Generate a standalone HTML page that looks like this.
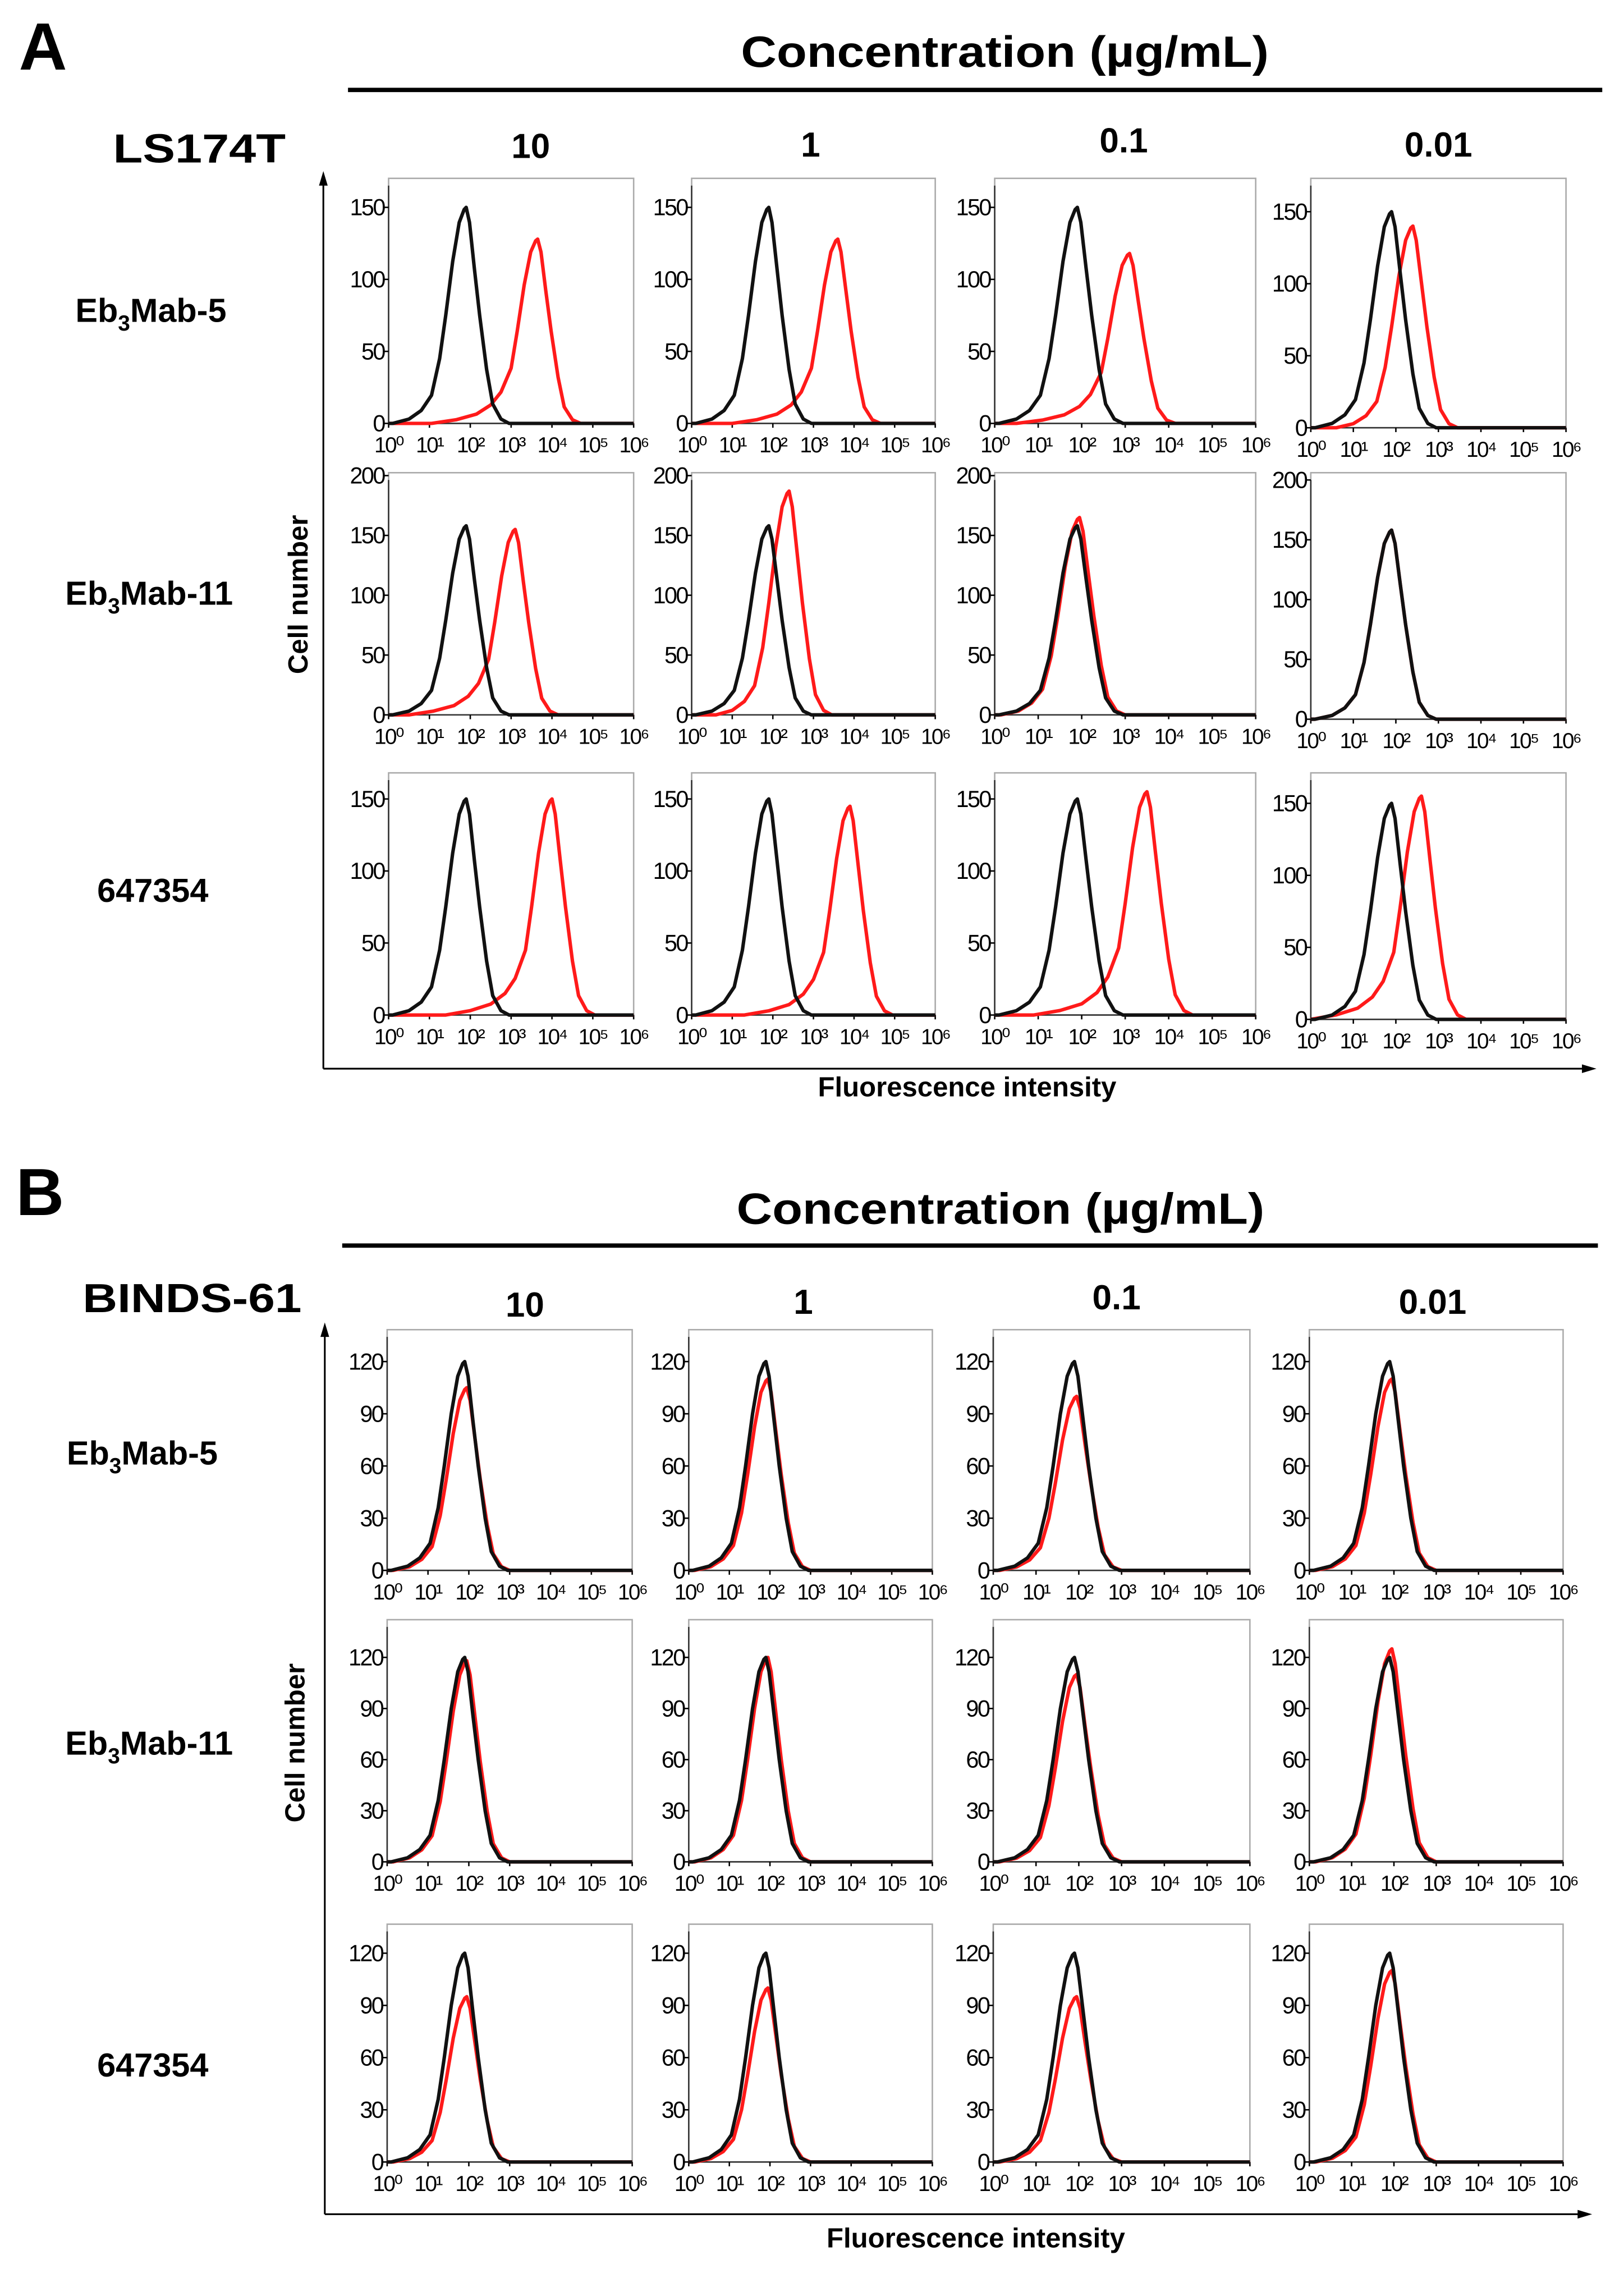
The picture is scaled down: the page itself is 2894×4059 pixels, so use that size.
<!DOCTYPE html>
<html><head><meta charset="utf-8"><style>
html,body{margin:0;padding:0;background:#fff}
svg{display:block}
text{font-family:"Liberation Sans",Arial,sans-serif}
</style></head><body>
<svg id="fig" xmlns="http://www.w3.org/2000/svg" width="2894" height="4059" viewBox="0 0 1120 1571" preserveAspectRatio="none">
<g>
<text x="13" y="48" font-size="46" font-weight="bold">A</text>
<text x="693" y="46" font-size="30" font-weight="bold" text-anchor="middle" textLength="364" lengthAdjust="spacingAndGlyphs">Concentration (µg/mL)</text>
<line x1="240" y1="62" x2="1105" y2="62" stroke="#000" stroke-width="3"/>
<text x="78" y="112" font-size="28" font-weight="bold" textLength="119" lengthAdjust="spacingAndGlyphs">LS174T</text>
<text x="366" y="109" font-size="24" font-weight="bold" text-anchor="middle">10</text>
<text x="559" y="108" font-size="24" font-weight="bold" text-anchor="middle">1</text>
<text x="775" y="105" font-size="24" font-weight="bold" text-anchor="middle">0.1</text>
<text x="992" y="108" font-size="24" font-weight="bold" text-anchor="middle">0.01</text>
<text x="52" y="222" font-size="23" font-weight="bold">Eb<tspan font-size="15" dy="6">3</tspan><tspan dy="-6">Mab-5</tspan></text>
<text x="45" y="417" font-size="23" font-weight="bold">Eb<tspan font-size="15" dy="6">3</tspan><tspan dy="-6">Mab-11</tspan></text>
<text x="67" y="622" font-size="23" font-weight="bold">647354</text>
<line x1="223" y1="737" x2="223" y2="126" stroke="#000" stroke-width="1.2"/>
<polygon points="223,118 220,128 226,128" fill="#000"/>
<line x1="223" y1="737" x2="1093" y2="737" stroke="#000" stroke-width="1.2"/>
<polygon points="1101,737 1091,734 1091,740" fill="#000"/>
<text transform="translate(212,410) rotate(-90)" font-size="19" font-weight="bold" text-anchor="middle">Cell number</text>
<text x="667" y="756" font-size="19" font-weight="bold" text-anchor="middle">Fluorescence intensity</text>
</g>
<g>
<text x="11" y="838" font-size="46" font-weight="bold">B</text>
<text x="690" y="844" font-size="30" font-weight="bold" text-anchor="middle" textLength="364" lengthAdjust="spacingAndGlyphs">Concentration (µg/mL)</text>
<line x1="236" y1="859" x2="1102" y2="859" stroke="#000" stroke-width="3"/>
<text x="57" y="905" font-size="28" font-weight="bold" textLength="151" lengthAdjust="spacingAndGlyphs">BINDS-61</text>
<text x="362" y="908" font-size="24" font-weight="bold" text-anchor="middle">10</text>
<text x="554" y="906" font-size="24" font-weight="bold" text-anchor="middle">1</text>
<text x="770" y="903" font-size="24" font-weight="bold" text-anchor="middle">0.1</text>
<text x="988" y="906" font-size="24" font-weight="bold" text-anchor="middle">0.01</text>
<text x="46" y="1010" font-size="23" font-weight="bold">Eb<tspan font-size="15" dy="6">3</tspan><tspan dy="-6">Mab-5</tspan></text>
<text x="45" y="1210" font-size="23" font-weight="bold">Eb<tspan font-size="15" dy="6">3</tspan><tspan dy="-6">Mab-11</tspan></text>
<text x="67" y="1432" font-size="23" font-weight="bold">647354</text>
<line x1="224" y1="1527" x2="224" y2="920" stroke="#000" stroke-width="1.2"/>
<polygon points="224,912 221,922 227,922" fill="#000"/>
<line x1="224" y1="1527" x2="1090" y2="1527" stroke="#000" stroke-width="1.2"/>
<polygon points="1098,1527 1088,1524 1088,1530" fill="#000"/>
<text transform="translate(210,1202) rotate(-90)" font-size="19" font-weight="bold" text-anchor="middle">Cell number</text>
<text x="673" y="1550" font-size="19" font-weight="bold" text-anchor="middle">Fluorescence intensity</text>
</g>
<g id="plots"></g>
</svg>
<script>
// ---- data (peak position in log10 fluorescence, peak height in cells) ----
const concentrations = ["10", "1", "0.1", "0.01"];
const antibodies = ["Eb3Mab-5", "Eb3Mab-11", "647354"];
// Panel A: LS174T
const aControlPeakLog = [[1.9,1.9,1.9,1.9],[1.9,1.9,1.9,1.9],[1.9,1.9,1.9,1.9]];
const aControlHeight  = [[150,150,150,150],[158,158,158,158],[150,150,150,150]];
const aSamplePeakLog  = [[3.65,3.6,3.1,2.4],[3.1,2.4,1.95,1.9],[4.0,3.9,3.5,2.6]];
const aSampleHeight   = [[128,128,118,140],[155,187,165,158],[150,145,155,155]];
const aYTicks = [[0,50,100,150],[0,50,100,150,200],[0,50,100,150]];
// Panel B: BINDS-61
const bControlPeakLog = [[1.9,1.9,1.9,1.9],[1.9,1.9,1.9,1.9],[1.9,1.9,1.9,1.9]];
const bControlHeight  = [[120,120,120,120],[120,120,120,120],[120,120,120,120]];
const bSamplePeakLog  = [[1.95,1.95,1.95,1.95],[1.95,1.95,1.95,1.95],[1.95,1.95,1.95,1.95]];
const bSampleHeight   = [[105,110,100,110],[118,120,110,125],[95,100,95,110]];
const bYTicks = [[0,30,60,90,120],[0,30,60,90,120],[0,30,60,90,120]];
const xTickLabels = ["10⁰","10¹","10²","10³","10⁴","10⁵","10⁶"];
// histogram shape profiles (offset in decades from peak, fraction of peak height)
const controlOffsets = [-1.8,-1.4,-1.1,-0.85,-0.65,-0.5,-0.33,-0.17,-0.05,0,0.08,0.2,0.33,0.5,0.65,0.85,1.05];
const controlFractions = [0,0.02,0.06,0.13,0.3,0.5,0.75,0.93,0.99,1,0.93,0.72,0.5,0.25,0.09,0.02,0];
const shiftedOffsets = [-2.6,-2.0,-1.5,-1.15,-0.9,-0.65,-0.5,-0.33,-0.17,-0.05,0,0.08,0.2,0.33,0.5,0.65,0.85,1.05];
const shiftedFractions = [0,0.02,0.05,0.1,0.17,0.3,0.5,0.75,0.93,0.99,1,0.93,0.72,0.5,0.25,0.09,0.02,0];

// ---- layout ----
const A = {left:[268,477,686,904], right:[437,645,866,1080], top:[123,326,533], zero:[292,493,700], tickTopY:[143,328,551], tickTopV:[150,200,150]};
const B = {left:[267,475,685,903], right:[436,643,862,1078], top:[917,1117,1327], zero:[1083,1284,1491], tickTopY:[939,1143,1347], tickTopV:[120,120,120]};
const NS = "http://www.w3.org/2000/svg";
const root = document.getElementById("plots");
function mk(tag, attrs, parent){const e=document.createElementNS(NS,tag);for(const k in attrs)e.setAttribute(k,attrs[k]);parent.appendChild(e);return e;}

function curve(g, xs, ys, peakLog, height, offs, fracs, color, name){
  const pts = [];
  pts.push([xs(0), ys(0)]);
  for (let i=0;i<offs.length;i++){
    const lx = Math.max(0, Math.min(6, peakLog+offs[i]));
    pts.push([xs(lx), ys(height*fracs[i])]);
  }
  pts.push([xs(6), ys(0)]);
  const p = mk("polyline", {points: pts.map(p=>p[0].toFixed(1)+","+p[1].toFixed(1)).join(" "), fill:"none", stroke:color, "stroke-width":"2.4", "stroke-linejoin":"round"}, g);
  
  
}

function drawSection(L, prefix, cPeak, cH, sPeak, sH, yTicks){
  for (let r=0;r<3;r++){
    for (let c=0;c<4;c++){
      const g = mk("g", {}, root);
      
      
      const x0=L.left[c], x1=L.right[c], top=L.top[r], zero=L.zero[r]+(prefix==="a"&&c===3?3:0);
      const ppu=(L.zero[r]-L.tickTopY[r])/L.tickTopV[r];
      const xs = v => x0 + (x1-x0)*v/6;
      const ys = v => zero - v*ppu;
      const box = mk("rect", {x:x0, y:top, width:x1-x0, height:zero-top, fill:"none", stroke:"#aaa", "stroke-width":"1"}, g);
      
      
      mk("line", {x1:x0,y1:zero,x2:x0,y2:top+5,stroke:"#333","stroke-width":"1"}, g);
      mk("line", {x1:x0,y1:zero,x2:x1,y2:zero,stroke:"#333","stroke-width":"1"}, g);
      yTicks[r].forEach(v=>{
        mk("line",{x1:x0-3,y1:ys(v),x2:x0,y2:ys(v),stroke:"#000","stroke-width":"1"},g);
        const t = mk("text",{x:x0-3,y:ys(v)+5.5,"font-size":"16","text-anchor":"end","letter-spacing":"-1"},g);
        t.textContent = v;
        
        
      });
      xTickLabels.forEach((lab,i)=>{
        mk("line",{x1:xs(i),y1:zero,x2:xs(i),y2:zero+3,stroke:"#000","stroke-width":"1"},g);
        const t = mk("text",{x:xs(i),y:zero+20,"font-size":"15","text-anchor":"middle","letter-spacing":"-1"},g);
        t.textContent = lab;
        
        
      });
      const shifted = sPeak[r][c]-cPeak[r][c] > 0.6;
      const so = shifted?shiftedOffsets:controlOffsets, sf = shifted?shiftedFractions:controlFractions;
      curve(g,xs,ys,sPeak[r][c],sH[r][c],so,sf,"#ff1a1a","sample-histogram-red");
      curve(g,xs,ys,cPeak[r][c],cH[r][c],controlOffsets,controlFractions,"#111","control-histogram-black");
    }
  }
}
drawSection(A,"a",aControlPeakLog,aControlHeight,aSamplePeakLog,aSampleHeight,aYTicks);
drawSection(B,"b",bControlPeakLog,bControlHeight,bSamplePeakLog,bSampleHeight,bYTicks);
</script>
</body></html>
